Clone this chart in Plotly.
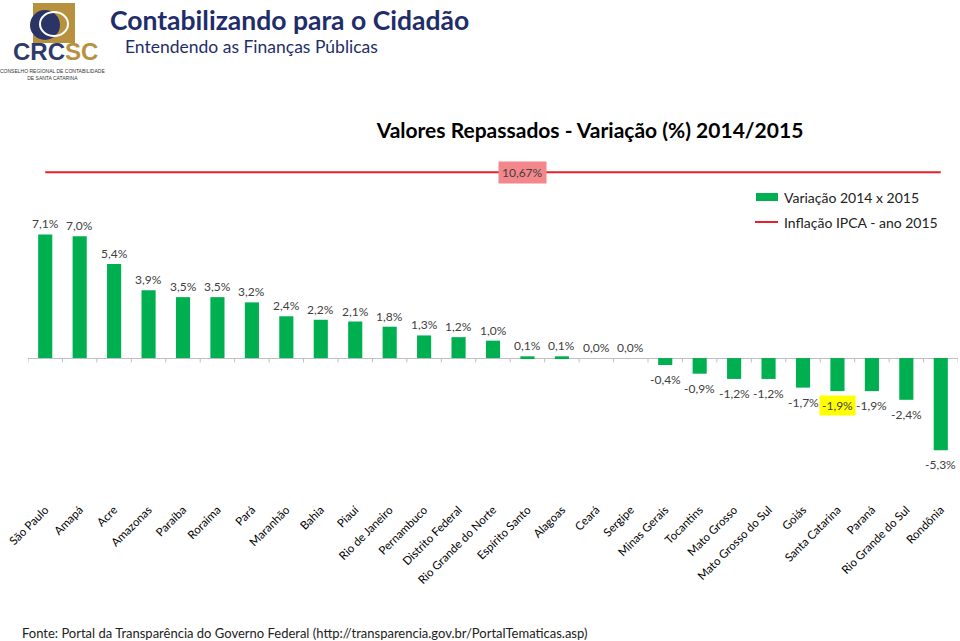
import plotly.graph_objects as go

# ---------------- data ----------------
states = ["São Paulo", "Amapá", "Acre", "Amazonas", "Paraíba", "Roraima", "Pará",
          "Maranhão", "Bahia", "Piauí", "Rio de Janeiro", "Pernambuco",
          "Distrito Federal", "Rio Grande do Norte", "Espírito Santo", "Alagoas",
          "Ceará", "Sergipe", "Minas Gerais", "Tocantins", "Mato Grosso",
          "Mato Grosso do Sul", "Goiás", "Santa Catarina", "Paraná",
          "Rio Grande do Sul", "Rondônia"]
variacao = [7.1, 7.0, 5.4, 3.9, 3.5, 3.5, 3.2, 2.4, 2.2, 2.1, 1.8, 1.3, 1.2, 1.0,
            0.1, 0.1, 0.0, 0.0, -0.4, -0.9, -1.2, -1.2, -1.7, -1.9, -1.9, -2.4, -5.3]
ipca = 10.67
highlight_state = "Santa Catarina"

series_names = ["Variação 2014 x 2015", "Inflação IPCA - ano 2015"]

# ---------------- styling ----------------
W, H = 960, 641
L, R, T, B = 28, 2, 140, 146
PW, PH = W - L - R, H - T - B
FONT = "Lato"
GREEN = "#00b050"
RED = "#e8202a"
NAVY = "#1f2d6b"
GOLD = "#b8913f"


def px(x):
    return (x - L) / PW


def py(y):
    return (H - B - y) / PH


def fmt(v, d=1):
    return f"{v:.{d}f}%".replace(".", ",")


fig = go.Figure()

fig.add_trace(go.Bar(x=states, y=variacao, marker=dict(color=GREEN, line=dict(width=0)),
                     name=series_names[0], showlegend=False))
fig.add_trace(go.Scatter(x=states, y=[ipca] * len(states), mode="lines",
                         line=dict(color=RED, width=2), name=series_names[1],
                         showlegend=False))

annotations = []
for s, v in zip(states, variacao):
    hl = s == highlight_state
    annotations.append(dict(
        x=s, y=v, xref="x", yref="y", text=fmt(v), showarrow=False,
        yanchor="bottom" if v >= 0 else "top",
        yshift=0 if v >= 0 else -4,
        font=dict(family=FONT, size=12, color="#404040"),
        bgcolor="#ffff00" if hl else None, borderpad=2,
    ))

# IPCA label
annotations.append(dict(
    x=states[14], y=ipca, xref="x", yref="y", text=fmt(ipca, 2), showarrow=False,
    xshift=-5, font=dict(family=FONT, size=12, color="#404040"),
    bgcolor="#f4878b", borderpad=3,
))

# legend (manual)
annotations.append(dict(x=px(782), y=py(197), xref="paper", yref="paper", text=series_names[0],
                        showarrow=False, xanchor="left", yanchor="middle",
                        font=dict(family=FONT, size=14, color="#222")))
annotations.append(dict(x=px(782), y=py(222), xref="paper", yref="paper", text=series_names[1],
                        showarrow=False, xanchor="left", yanchor="middle",
                        font=dict(family=FONT, size=14, color="#222")))

# header
annotations.append(dict(x=px(108), y=py(20), xref="paper", yref="paper",
                        text="<b>Contabilizando para o Cidadão</b>", showarrow=False,
                        xanchor="left", yanchor="middle",
                        font=dict(family=FONT, size=26.5, color=NAVY)))
annotations.append(dict(x=px(123), y=py(47), xref="paper", yref="paper",
                        text="Entendendo as Finanças Públicas", showarrow=False,
                        xanchor="left", yanchor="middle",
                        font=dict(family=FONT, size=17.5, color=NAVY)))
# logo text
annotations.append(dict(x=px(55), y=py(67), xref="paper", yref="paper",
                        text=f"<b><span style='color:#2e3a6e'>CRC</span><span style='color:{GOLD}'>SC</span></b>",
                        showarrow=False, xanchor="center", yanchor="bottom",
                        font=dict(family="Liberation Sans", size=24)))
annotations.append(dict(x=px(52), y=py(66), xref="paper", yref="paper",
                        text="CONSELHO REGIONAL DE CONTABILIDADE<br>DE SANTA CATARINA",
                        showarrow=False, xanchor="center", yanchor="top",
                        font=dict(family="Liberation Sans", size=5, color="#333")))
# footer
annotations.append(dict(x=px(20), y=py(633), xref="paper", yref="paper",
                        text="Fonte: Portal da Transparência do Governo Federal (http://transparencia.gov.br/PortalTematicas.asp)",
                        showarrow=False, xanchor="left", yanchor="middle",
                        font=dict(family=FONT, size=13, color="#222")))

shapes = []
# category tick marks on the zero axis
for i in range(len(states) + 1):
    shapes.append(dict(type="line", xref="x", yref="y", x0=i - 0.5, x1=i - 0.5,
                       y0=0, y1=-0.25, line=dict(color="#bfbfbf", width=1)))
# legend symbols
shapes.append(dict(type="rect", xref="paper", yref="paper", x0=px(756), x1=px(778),
                   y0=py(201), y1=py(193), fillcolor=GREEN, line=dict(width=0)))
shapes.append(dict(type="line", xref="paper", yref="paper", x0=px(755), x1=px(778),
                   y0=py(222), y1=py(222), line=dict(color=RED, width=2)))
# logo emblem
shapes.append(dict(type="rect", xref="paper", yref="paper", x0=px(33), x1=px(75),
                   y0=py(43), y1=py(3), fillcolor=GOLD, line=dict(width=0)))
shapes.append(dict(type="circle", xref="paper", yref="paper", x0=px(30), x1=px(60),
                   y0=py(40), y1=py(10), fillcolor="#2b3467", line=dict(width=0)))
shapes.append(dict(type="circle", xref="paper", yref="paper", x0=px(40), x1=px(68),
                   y0=py(36), y1=py(12), fillcolor="rgba(0,0,0,0)",
                   line=dict(color="white", width=2)))

fig.update_layout(
    width=W, height=H,
    margin=dict(l=L, r=R, t=T, b=B, autoexpand=False),
    paper_bgcolor="white", plot_bgcolor="white",
    title=dict(text="<b>Valores Repassados - Variação (%) 2014/2015</b>",
               x=590 / W, xanchor="center", y=1 - 131 / H, yanchor="middle",
               xref="container", yref="container",
               font=dict(family=FONT, size=21, color="#000")),
    bargap=0.59,
    showlegend=False,
    annotations=annotations,
    shapes=shapes,
    xaxis=dict(type="category", tickangle=-45, showgrid=False, showline=False,
               ticks="", tickfont=dict(family=FONT, size=11.5, color="#000"),
               ticklabelstandoff=5,
               range=[-0.5, len(states) - 0.5], automargin=False),
    yaxis=dict(range=[-7.87, 12.53], showgrid=False, showticklabels=False,
               ticks="", zeroline=True, zerolinecolor="#bfbfbf", zerolinewidth=1,
               showline=False, automargin=False),
)

fig.write_html("out.html", config={"displayModeBar": False},
               post_script="document.body.style.margin='0';document.body.style.overflow='hidden';")
